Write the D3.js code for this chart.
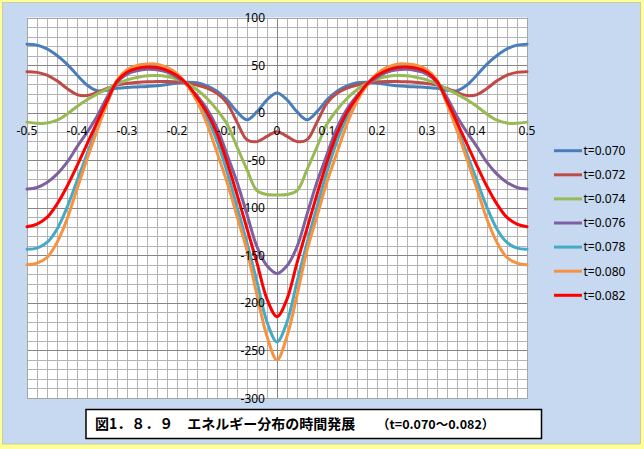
<!DOCTYPE html>
<html><head><meta charset="utf-8">
<script src="https://cdn.jsdelivr.net/npm/d3@7/dist/d3.min.js"></script>
<style>body{margin:0;background:#fff;} svg{display:block;}</style>
</head><body><svg id="c" width="644" height="449"></svg>
<script>
const xValues = [-0.50,-0.48,-0.46,-0.44,-0.42,-0.40,-0.38,-0.36,-0.34,-0.32,-0.30,-0.28,-0.26,-0.24,-0.22,-0.20,-0.18,-0.16,-0.14,-0.12,-0.10,-0.08,-0.06,-0.04,-0.02,0.00,
  0.02,0.04,0.06,0.08,0.10,0.12,0.14,0.16,0.18,0.20,0.22,0.24,0.26,0.28,0.30,0.32,0.34,0.36,0.38,0.40,0.42,0.44,0.46,0.48,0.50];

const t070 = [72,71,67,60,51,39.5,29,23,23.5,25.5,26.5,27,27.5,28.2,29.6,31,32,31.4,28.2,22.6,13.5,1,-7.5,1,13.5,20.5,
  13.5,1,-7.5,1,13.5,22.6,28.2,31.4,32,31,29.6,28.2,27.5,27,26.5,25.5,23.5,23,29,39.5,51,60,67,71,72];
const t072 = [43,42.3,39.4,33.4,25.4,19,18,21.2,25.4,28.9,30.7,31.7,32.4,32.8,32.8,32.4,31,28.9,25.8,20.2,10,-10,-28.5,-30.5,-25,-20,
  -25,-30.5,-28.5,-10,10,20.2,25.8,28.9,31,32.4,32.8,32.8,32.4,31.7,30.7,28.9,25.4,21.2,18,19,25.4,33.4,39.4,42.3,43];
const t074 = [-10,-11.2,-11,-8,-1.6,6.5,13.5,19.5,24.7,30,34.5,37,38.7,39,38,35.2,30.7,24,14.9,2.9,-12,-36,-60,-82,-86,-86.5,
  -86,-82,-60,-36,-12,2.9,14.9,24,30.7,35.2,38,39,38.7,37,34.5,30,24.7,19.5,13.5,6.5,-1.6,-8,-11,-11.2,-10];
const t076 = [-80.4,-78.7,-73.4,-64.7,-52.4,-36,-20.8,-4,16,31.7,40.5,44,45.5,45,42.5,37,29,17.7,3.7,-16,-44,-73,-107,-141,-161,-169,
  -161,-141,-107,-73,-44,-16,3.7,17.7,29,37,42.5,45,45.5,44,40.5,31.7,16,-4,-20.8,-36,-52.4,-64.7,-73.4,-78.7,-80.4];
const t078 = [-143.5,-142.5,-136.5,-122.5,-99.7,-71.7,-43.6,-15.6,10,33,43.5,47.5,49.5,49.5,46,40,29.5,14,-5,-30,-62,-99,-137,-178,-220,-241,
  -220,-178,-137,-99,-62,-30,-5,14,29.5,40,46,49.5,49.5,47.5,43.5,33,10,-15.6,-43.6,-71.7,-99.7,-122.5,-136.5,-142.5,-143.5];
const t080 = [-160,-158.3,-152.3,-136.5,-112,-80.4,-48.9,-19.1,9,34,45,49.5,51,51,47.5,41,29,12,-12,-42,-73,-109,-145,-192,-235,-260,
  -235,-192,-145,-109,-73,-42,-12,12,29,41,47.5,51,51,49.5,45,34,9,-19.1,-48.9,-80.4,-112,-136.5,-152.3,-158.3,-160];
const t082 = [-120,-117.2,-110.2,-96.2,-77.6,-55.9,-33.1,-10.3,12,33,42.5,46.5,48,47.5,44.5,39,30,16,0,-22,-52,-86,-122,-158,-196,-214.5,
  -196,-158,-122,-86,-52,-22,0,16,30,39,44.5,47.5,48,46.5,42.5,33,12,-10.3,-33.1,-55.9,-77.6,-96.2,-110.2,-117.2,-120];

const seriesLabels = ["t=0.070","t=0.072","t=0.074","t=0.076","t=0.078","t=0.080","t=0.082"];
const seriesValues = [t070,t072,t074,t076,t078,t080,t082];
const seriesColors = ["#4a7ebb","#be4b48","#98b954","#7d60a0","#46aac5","#f69240","#ff0000"];

const xTicks = [-0.5,-0.4,-0.3,-0.2,-0.1,0,0.1,0.2,0.3,0.4,0.5];
const xTickLabels = ["-0.5","-0.4","-0.3","-0.2","-0.1","0","0.1","0.2","0.3","0.4","0.5"];
const yTicks = [100,50,0,-50,-100,-150,-200,-250,-300];
const yTickLabels = ["100","50","0","-50","-100","-150","-200","-250","-300"];
const titleMain = "図1．８．９　エネルギー分布の時間発展　　";
const titleSub = "（t=0.070～0.082）";

const svg = d3.select("#c");
const W = 644, H = 449;
const font = "'Noto Sans', 'Liberation Sans', sans-serif";

// outer frame
svg.append("rect").attr("x",0).attr("y",0).attr("width",W).attr("height",H).attr("fill","#ffff99");
svg.append("rect").attr("x",2.5).attr("y",2.5).attr("width",638).attr("height",441.5)
  .attr("fill","#c6d9f1").attr("stroke","#b9b98a").attr("stroke-width",0.6);

const x = d3.scaleLinear().domain([-0.5,0.5]).range([27,527]);
const y = d3.scaleLinear().domain([-300,100]).range([398,17.5]);

// plot area
svg.append("rect").attr("x",x(-0.5)).attr("y",y(100)).attr("width",x(0.5)-x(-0.5)).attr("height",y(-300)-y(100))
  .attr("fill","#ffffff");

const grid = svg.append("g").attr("shape-rendering","crispEdges");
// vertical minor grid every 0.02
d3.range(0,51).forEach(i=>{
  const v = -0.5 + i*0.02;
  grid.append("line").attr("x1",Math.round(x(v))+0.5).attr("x2",Math.round(x(v))+0.5)
    .attr("y1",y(100)).attr("y2",y(-300)).attr("stroke","#b3b3b3").attr("stroke-width",1);
});
// horizontal minor grid every 10
d3.range(0,41).forEach(i=>{
  const v = -300 + i*10;
  const major = (v % 50 === 0);
  grid.append("line").attr("x1",x(-0.5)).attr("x2",x(0.5))
    .attr("y1",Math.round(y(v))+0.5).attr("y2",Math.round(y(v))+0.5)
    .attr("stroke", major ? "#868686" : "#b3b3b3").attr("stroke-width",1);
});
// y axis line at x=0
grid.append("line").attr("x1",Math.round(x(0))+0.5).attr("x2",Math.round(x(0))+0.5)
  .attr("y1",y(100)).attr("y2",y(-300)).attr("stroke","#868686");
// plot border
grid.append("rect").attr("x",Math.round(x(-0.5))+0.5).attr("y",Math.round(y(100))+0.5)
  .attr("width",Math.round(x(0.5))-Math.round(x(-0.5))).attr("height",Math.round(y(-300))-Math.round(y(100)))
  .attr("fill","none").attr("stroke","#a6a6a6");

// series
const line = d3.line().x((d,i)=>x(xValues[i])).y(d=>y(d)).curve(d3.curveCatmullRom.alpha(0.5));
seriesValues.forEach((vals,k)=>{
  svg.append("path").attr("d",line(vals)).attr("fill","none")
    .attr("stroke",seriesColors[k]).attr("stroke-width",3).attr("stroke-linejoin","round").attr("stroke-linecap","round");
});

// axis labels
const lab = svg.append("g").attr("font-family",font).attr("font-size",12).attr("fill","#000");
xTicks.forEach((v,i)=>{
  lab.append("text").attr("x",x(v)).attr("y",y(0)+22).attr("text-anchor","middle").text(xTickLabels[i]);
});
yTicks.forEach((v,i)=>{
  lab.append("text").attr("x",x(0)-12).attr("y",y(v)+4.5).attr("text-anchor","end").text(yTickLabels[i]);
});

// legend
const leg = svg.append("g").attr("font-family",font).attr("font-size",12);
seriesLabels.forEach((s,k)=>{
  const ly = 150.7 + k*24.1;
  leg.append("line").attr("x1",554).attr("x2",582).attr("y1",ly).attr("y2",ly)
    .attr("stroke",seriesColors[k]).attr("stroke-width",3);
  leg.append("text").attr("x",583.5).attr("y",ly+4.3).attr("fill","#000").text(s);
});

// title box
svg.append("rect").attr("x",86).attr("y",409.5).attr("width",455.5).attr("height",29)
  .attr("fill","#ffffff").attr("stroke","#000").attr("stroke-width",1.5);
const tt = svg.append("text").attr("x",95).attr("y",429).attr("font-weight","bold")
  .attr("font-family","'Noto Sans CJK JP', 'Noto Sans', sans-serif").attr("fill","#000");
tt.append("tspan").attr("font-size",14).text(titleMain);
tt.append("tspan").attr("font-size",12.5).text(titleSub);
</script>
</body></html>
